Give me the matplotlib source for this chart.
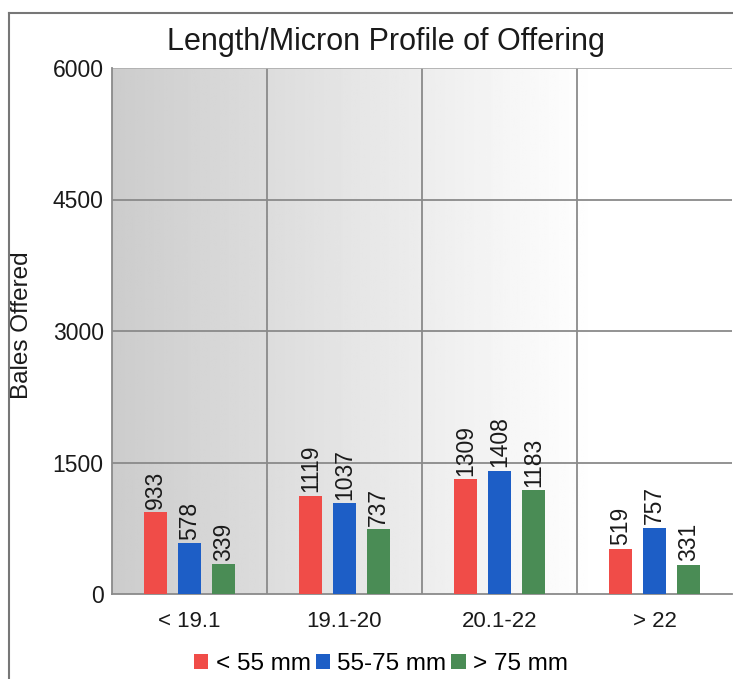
import matplotlib
matplotlib.use("Agg")
import matplotlib.pyplot as plt
import numpy as np
from matplotlib.lines import Line2D
from matplotlib.patches import Patch

plt.rcParams['font.family'] = ['Liberation Sans', 'DejaVu Sans']

categories = ["< 19.1", "19.1-20", "20.1-22", "> 22"]
series_names = ["< 55 mm", "55-75 mm", "> 75 mm"]
short_vals = [933, 1119, 1309, 519]
mid_vals = [578, 1037, 1408, 757]
long_vals = [339, 737, 1183, 331]
yticks = [0, 1500, 3000, 4500, 6000]
colors = ["#f04c48", "#1d5ec6", "#4a8c55"]
txt = '#1a1a1a'

fig = plt.figure(figsize=(7.33, 6.79), dpi=100)
ax = fig.add_axes([112/733, 1-594/679, 620/733, (594-68)/679])

# gradient background
grad = np.clip(np.linspace(0, 1, 256) / 0.78, 0, 1)
gvals = 0.80 + 0.20 * grad
img = np.tile(gvals, (2, 1))
ax.imshow(img, extent=[-0.5, 3.5, 0, 6000], aspect='auto', cmap='gray',
          vmin=0, vmax=1, zorder=0)

x = np.arange(len(categories))
width = 0.15
offsets = [-0.22, 0.0, 0.22]
for vals, off, c in zip([short_vals, mid_vals, long_vals], offsets, colors):
    bars = ax.bar(x + off, vals, width, color=c, zorder=3, edgecolor='none')
    for b, v in zip(bars, vals):
        ax.text(b.get_x() + b.get_width()/2, v + 40, str(v), rotation=90,
                ha='center', va='bottom', fontsize=16.5, color=txt, zorder=4)

ax.set_xlim(-0.5, 3.5)
ax.set_ylim(0, 6000)
ax.set_yticks(yticks)
ax.set_yticklabels([str(t) for t in yticks], fontsize=16.5, color=txt)
ax.set_xticks(x)
ax.set_xticklabels(categories, fontsize=16, color=txt)
ax.tick_params(axis='both', length=0)
ax.tick_params(axis='x', pad=12)
ax.tick_params(axis='y', pad=6)

for v in [0.5, 1.5, 2.5]:
    ax.axvline(v, color='#8a8a8a', lw=1.3, zorder=1)
for t in yticks[1:-1]:
    ax.axhline(t, color='#8a8a8a', lw=1.3, zorder=1)
ax.axhline(6000, color='#b0b0b0', lw=1.3, zorder=1)

for s in ['top', 'right']:
    ax.spines[s].set_visible(False)
ax.spines['left'].set_color('#8a8a8a')
ax.spines['bottom'].set_color('#8a8a8a')
ax.spines['left'].set_linewidth(1.3)
ax.spines['bottom'].set_linewidth(1.3)

fig.text(386/733, 1-42/679, "Length/Micron Profile of Offering", fontsize=22,
         ha='center', va='center', color=txt)
fig.text(22/733, 1-325/679, "Bales Offered", fontsize=17.5, rotation=90,
         ha='center', va='center', color=txt)

handles = [Patch(facecolor=c, edgecolor='none') for c in colors]
fig.legend(handles, series_names, loc='center', bbox_to_anchor=(381/733, 1-664/679),
           ncol=3, frameon=False, fontsize=17.5, handlelength=0.6, handleheight=0.6,
           handletextpad=0.3, columnspacing=0.2)

# outer border
fig.add_artist(Line2D([9/733, 9/733], [0, 1-13/679], transform=fig.transFigure,
                      color='#777777', lw=1.5))
fig.add_artist(Line2D([9/733, 1], [1-13/679, 1-13/679], transform=fig.transFigure,
                      color='#777777', lw=1.5))

fig.savefig("out.png", dpi=100)
